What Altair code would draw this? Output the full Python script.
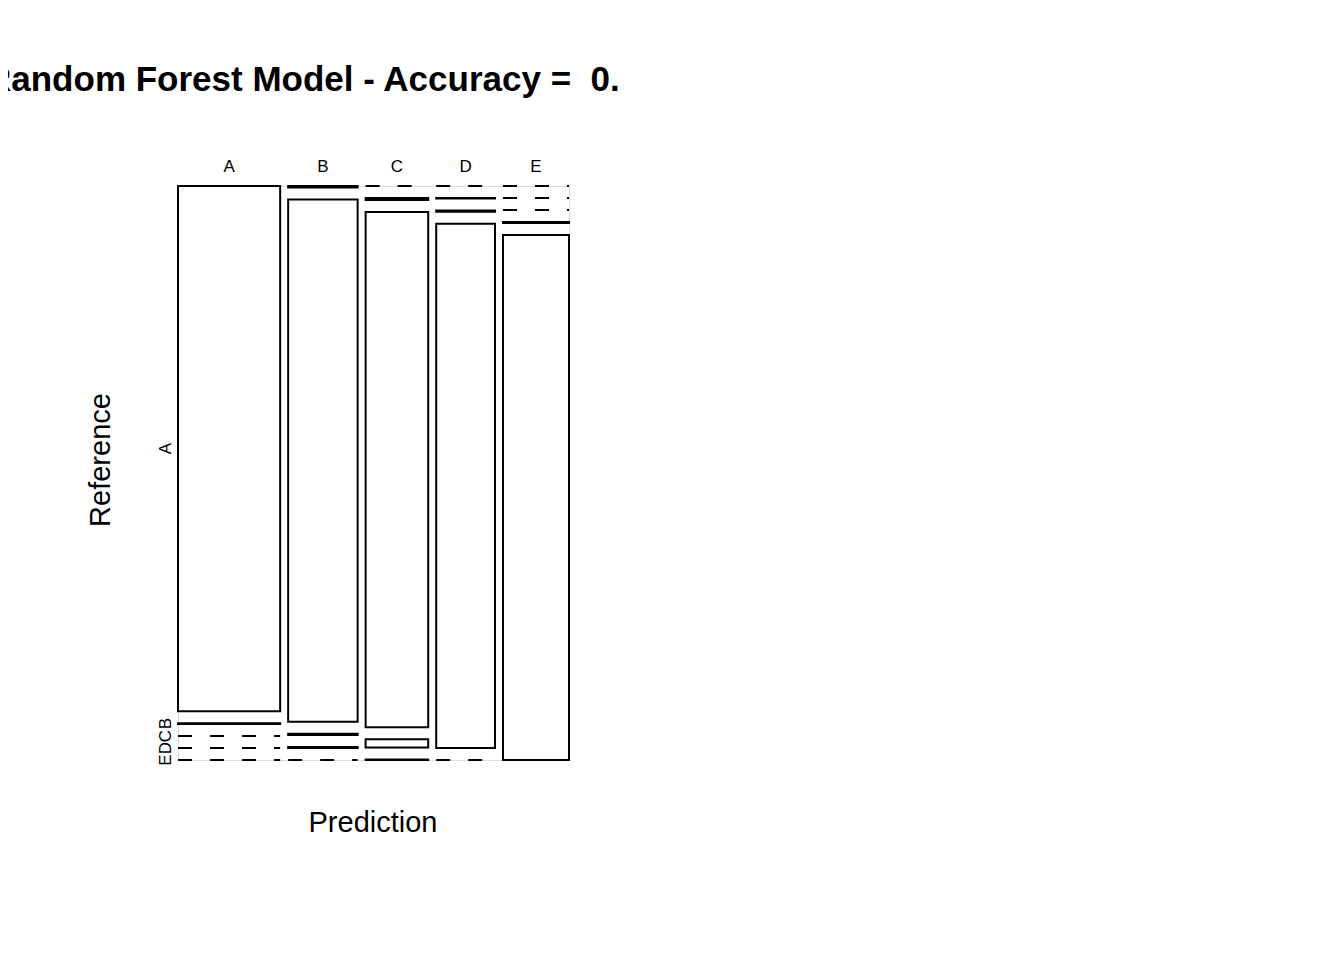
import pandas as pd
import altair as alt

classes = ['A', 'B', 'C', 'D', 'E']
# confusion matrix counts: one list per predicted class, reference A..E
pred_A = [1673, 2, 0, 0, 0]
pred_B = [3, 1131, 3, 2, 0]
pred_C = [0, 4, 1005, 16, 1]
pred_D = [0, 1, 2, 961, 0]
pred_E = [0, 0, 0, 2, 1080]
counts = [pred_A, pred_B, pred_C, pred_D, pred_E]

W, H = 391, 574
gx, gy = 8 / W, 12 / H

# Mosaic layout: column widths from prediction totals, cell heights within column
col_tot = [sum(c) for c in counts]
grand = sum(col_tot)
usable_x = 1 - 4 * gx
usable_y = 1 - 4 * gy

cells, zeros, top_labels, left_labels = [], [], [], []
x = 0.0
for i, p in enumerate(classes):
    w = col_tot[i] / grand * usable_x
    y = 0.0
    for j, r in enumerate(classes):
        h = counts[i][j] / col_tot[i] * usable_y
        if counts[i][j] == 0:
            zeros.append({'x': x, 'x2': x + w, 'y': y})
        else:
            cells.append({'x': x, 'x2': x + w, 'y': y, 'y2': y + h})
        if i == 0:
            left_labels.append({'y': y + h / 2, 'label': r})
        y += h + gy
    top_labels.append({'x': x + w / 2, 'label': p})
    x += w + gx

xs = alt.Scale(domain=[0, 1])
ys = alt.Scale(domain=[0, 1], reverse=True)
font = 'Liberation Sans'

rects = alt.Chart(pd.DataFrame(cells)).mark_rect(
    fill='white', stroke='black', strokeWidth=2
).encode(
    x=alt.X('x:Q', scale=xs, axis=None), x2='x2:Q',
    y=alt.Y('y:Q', scale=ys, axis=None), y2='y2:Q'
)

dashed = alt.Chart(pd.DataFrame(zeros)).mark_rule(
    color='black', strokeWidth=2, strokeDash=[14, 18]
).encode(
    x=alt.X('x:Q', scale=xs), x2='x2:Q', y=alt.Y('y:Q', scale=ys)
)

top = alt.Chart(pd.DataFrame(top_labels)).mark_text(
    font=font, fontSize=17, baseline='middle'
).encode(x=alt.X('x:Q', scale=xs), y=alt.value(-19), text='label:N')

left = alt.Chart(pd.DataFrame(left_labels)).mark_text(
    font=font, fontSize=17, angle=270, baseline='middle'
).encode(y=alt.Y('y:Q', scale=ys), x=alt.value(-12), text='label:N')

titles = pd.DataFrame([
    {'px': -192, 'py': -106, 'text': 'Random Forest Model - Accuracy =\u00a0\u00a00.', 'size': 35, 'weight': 'bold', 'angle': 0, 'align': 'left'},
    {'px': 195, 'py': 637, 'text': 'Prediction', 'size': 29, 'weight': 'normal', 'angle': 0, 'align': 'center'},
    {'px': -77, 'py': 274, 'text': 'Reference', 'size': 29, 'weight': 'normal', 'angle': 270, 'align': 'center'},
])
title_layers = []
for _, t in titles.iterrows():
    title_layers.append(alt.Chart(pd.DataFrame([t])).mark_text(
        font=font, fontSize=int(t['size']), fontWeight=t['weight'],
        angle=int(t['angle']), align=t['align'], baseline='middle'
    ).encode(x=alt.value(int(t['px'])), y=alt.value(int(t['py'])), text='text:N'))

chart = alt.layer(rects, dashed, top, left, *title_layers).properties(
    width=W, height=H,
    autosize=alt.AutoSizeParams(type='none'),
    padding={'left': 170, 'top': 178, 'right': 600, 'bottom': 190}
).configure_view(stroke=None).configure(background='white')

chart.save("out.html", embed_options={"renderer": "svg", "actions": False})
